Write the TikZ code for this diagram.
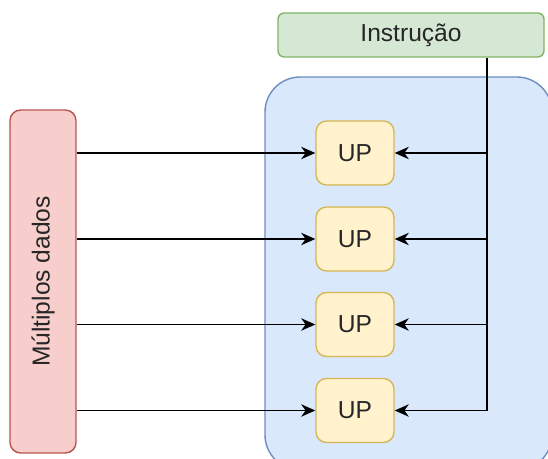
\documentclass[tikz,border=0pt]{standalone}
\usepackage{fontspec}
\setmainfont{Liberation Sans}
\usepackage{tikz}
\usetikzlibrary{arrows.meta, positioning, calc}
\definecolor{instrfill}{HTML}{D5E8D4}
\definecolor{instrline}{HTML}{82B366}
\definecolor{arrayfill}{HTML}{DAE8FC}
\definecolor{arrayline}{HTML}{6C8EBF}
\definecolor{datafill}{HTML}{F8CECC}
\definecolor{dataline}{HTML}{B85450}
\definecolor{upfill}{HTML}{FFF2CC}
\definecolor{upline}{HTML}{D6B656}

\begin{document}
\begin{tikzpicture}[
    x=0.02cm, y=-0.02cm,
    box/.style={rectangle, draw, line width=0.8pt, font=\fontsize{14}{16}\selectfont, text=black!85, align=center, inner sep=0pt},
    upbox/.style={box, fill=upfill, draw=upline, rounded corners=6pt, minimum width=1.56cm, minimum height=1.28cm},
    arr/.style={-{Stealth[length=8pt, width=7pt, inset=2.5pt]}, line width=1pt},
]
\clip (0,0) rectangle (548,459);
\fill[white] (0,0) rectangle (548,459);

% processing array
\draw[fill=arrayfill, draw=arrayline, line width=0.8pt, rounded corners=20pt] (265,77) rectangle (552,470);

\node[box, fill=instrfill, draw=instrline, rounded corners=3.5pt, minimum width=5.32cm, minimum height=0.88cm] (instr) at (411,35) {Instrução};
\node[box, fill=datafill, draw=dataline, rounded corners=6pt, minimum width=1.32cm, minimum height=6.86cm] (dados) at (43,281.5) {\rotatebox{90}{Múltiplos dados}};

\node[upbox] (up1) at (355,153) {UP};
\node[upbox] (up2) at (355,239) {UP};
\node[upbox] (up3) at (355,324.5) {UP};
\node[upbox] (up4) at (355,410.5) {UP};

% instruction bus
\coordinate (bus) at (487,410.5);
\draw[line width=1.2pt] (instr.south -| bus) -- (bus);

\foreach \i in {1,...,4}{
  \draw[arr] (dados.east |- up\i) -- (up\i.west);
  \draw[arr] (bus |- up\i) -- (up\i.east);
}
\end{tikzpicture}
\end{document}
